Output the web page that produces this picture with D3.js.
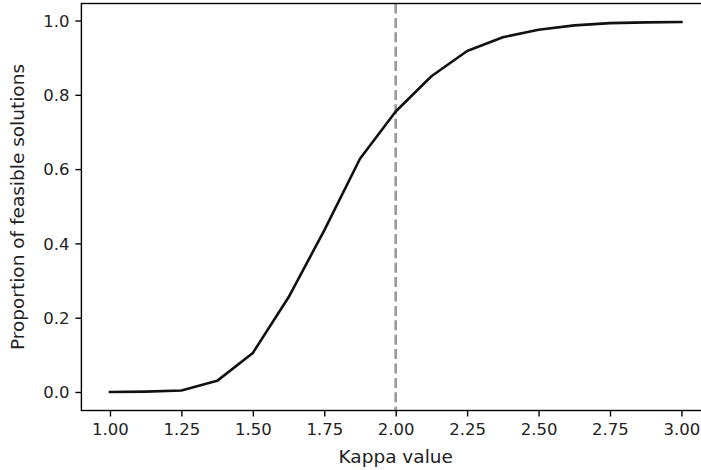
<!DOCTYPE html>
<html>
<head>
<meta charset="utf-8">
<script src="https://cdn.jsdelivr.net/npm/d3@7"></script>
<style>
  body { margin: 0; background: #fff; }
  text { font-family: "DejaVu Sans", sans-serif; fill: #222; }
</style>
</head>
<body>
<div id="container"></div>
<script>
// Kappa values and proportion of feasible solutions
const kappa = [1.0, 1.125, 1.25, 1.375, 1.5, 1.625, 1.75, 1.875, 2.0,
  2.125, 2.25, 2.375, 2.5, 2.625, 2.75, 2.875, 3.0];
const feasible = [0.0, 0.001, 0.004, 0.03, 0.105, 0.255, 0.435, 0.628, 0.755,
  0.85, 0.918, 0.955, 0.975, 0.987, 0.993, 0.995, 0.996];
const xTicks = [1.0, 1.25, 1.5, 1.75, 2.0, 2.25, 2.5, 2.75, 3.0];
const yTicks = [0.0, 0.2, 0.4, 0.6, 0.8, 1.0];
const threshold = 2.0;

const width = 701;
const height = 470;
const plotLeft = 81.4, plotRight = 710, plotTop = 3.5, plotBottom = 410.5;

const svg = d3.select("#container").
append("svg").
attr("width", width).
attr("height", height);

// matplotlib style 5% margins
const xMin = d3.min(kappa), xMax = d3.max(kappa);
const yMin = d3.min(feasible), yMax = d3.max(feasible);
const xPad = (xMax - xMin) * 0.05, yPad = (yMax - yMin) * 0.05;

const x = d3.scaleLinear().domain([xMin - xPad, xMax + xPad]).range([plotLeft, plotRight]);
const y = d3.scaleLinear().domain([yMin - yPad, yMax + yPad]).range([plotBottom, plotTop]);

// dashed vertical line
svg.append("line").
attr("x1", x(threshold)).
attr("x2", x(threshold)).
attr("y1", plotTop).
attr("y2", plotBottom).
attr("stroke", "#999").
attr("stroke-width", 2.6).
attr("stroke-dasharray", "10,4.4");

// the curve
const line = d3.line().x((d, i) => x(kappa[i])).y(d => y(d));
svg.append("path").
datum(feasible).
attr("fill", "none").
attr("stroke", "#111").
attr("stroke-width", 2.6).
attr("stroke-linecap", "square").
attr("stroke-linejoin", "round").
attr("d", line);

// axes
const xAxis = d3.axisBottom(x).tickValues(xTicks).tickFormat(d3.format(".2f")).
tickSize(6).tickPadding(7).tickSizeOuter(0);
const yAxis = d3.axisLeft(y).tickValues(yTicks).tickFormat(d3.format(".1f")).
tickSize(6).tickPadding(6).tickSizeOuter(0);

const gx = svg.append("g").attr("transform", `translate(0,${plotBottom})`).call(xAxis);
const gy = svg.append("g").attr("transform", `translate(${plotLeft},0)`).call(yAxis);

[gx, gy].forEach(g => {
  g.select(".domain").remove();
  g.selectAll(".tick line").attr("stroke", "#000").attr("stroke-width", 1.4);
  g.selectAll(".tick text").attr("font-size", 16.5).attr("fill", "#222");
});
gy.selectAll(".tick text").attr("dy", "0.34em");

// spines
svg.append("rect").
attr("x", plotLeft).
attr("y", plotTop).
attr("width", plotRight - plotLeft).
attr("height", plotBottom - plotTop).
attr("fill", "none").
attr("stroke", "#000").
attr("stroke-width", 1.4);

// labels
svg.append("text").
attr("x", (plotLeft + plotRight) / 2).
attr("y", 463).
attr("text-anchor", "middle").
attr("font-size", 18.5).
text("Kappa value");

svg.append("text").
attr("transform", `translate(24,${(plotTop + plotBottom) / 2}) rotate(-90)`).
attr("text-anchor", "middle").
attr("font-size", 18.5).
text("Proportion of feasible solutions");
</script>
</body>
</html>
